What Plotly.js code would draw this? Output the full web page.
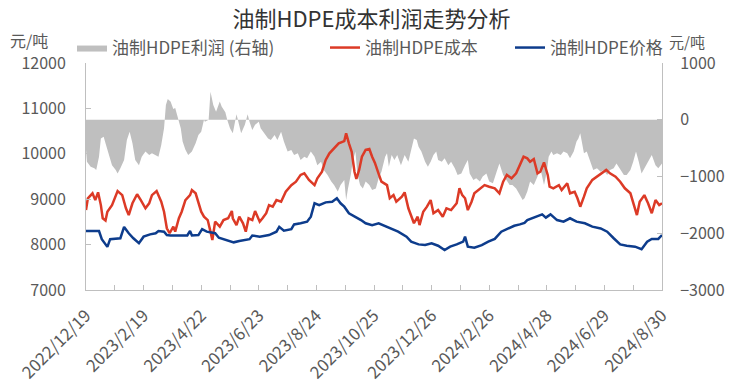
<!DOCTYPE html>
<html><head><meta charset="utf-8">
<script src="https://cdn.plot.ly/plotly-3.0.1.min.js"></script>
<style>html,body{margin:0;padding:0;background:#fff}#chart{width:743px;height:384px}</style>
</head><body><div id="chart"></div>
<script>
// x tick positions (every 62 days) and their labels
const tickDates = ['2022-12-19','2023-02-19','2023-04-22','2023-06-23','2023-08-24','2023-10-25','2023-12-26','2024-02-26','2024-04-28','2024-06-29','2024-08-30'];
const tickLabels = ['2022/12/19','2023/2/19','2023/4/22','2023/6/23','2023/8/24','2023/10/25','2023/12/26','2024/2/26','2024/4/28','2024/6/29','2024/8/30'];

// day offsets counted from 2022-12-19
const priceDay = [0,14,17,23,26,37,41,46,51,57,
 62,69,75,78,84,87,91,109,112,114,
 121,125,130,139,143,152,159,165,176,179,
 187,197,205,208,213,221,224,231,238,242,
 246,251,258,265,270,274,278,283,290,296,
 301,308,315,320,327,336,345,350,358,365,
 372,379,386,392,399,406,408,411,418,426,
 433,440,447,454,461,467,472,475,484,491,
 495,500,507,514,521,528,537,545,554,561,
 568,575,582,591,598,604,609,616,620];
const priceVal = [8300,8300,8120,7950,8120,8140,8390,8250,8140,8030,
 8175,8225,8250,8300,8285,8210,8200,8200,8300,8200,
 8210,8340,8285,8250,8150,8100,8050,8080,8120,8200,
 8175,8210,8285,8390,8305,8340,8445,8470,8505,8615,
 8910,8870,8930,8945,9020,8910,8835,8690,8615,8540,
 8470,8430,8470,8430,8370,8285,8175,8065,8005,7990,
 8030,7975,7880,7955,8005,8065,8175,7955,7930,7990,
 8065,8125,8285,8355,8415,8445,8480,8540,8615,8665,
 8595,8665,8540,8505,8580,8505,8470,8395,8355,8285,
 8140,8005,7975,7955,7900,8065,8125,8125,8210];

const costDay = [0,2,7,10,13,16,18,21,23,28,
 34,39,43,46,50,55,59,64,68,71,
 76,81,84,87,90,94,96,100,103,107,
 112,114,118,121,124,127,131,134,136,139,
 144,148,153,157,158,162,165,169,172,175,
 179,182,187,190,194,197,201,205,210,215,
 221,226,231,235,240,246,249,254,258,262,
 267,272,278,280,283,286,289,291,294,297,
 301,305,308,311,315,318,324,327,331,334,
 340,343,347,350,353,357,359,363,367,371,
 374,379,384,388,393,399,402,405,408,411,
 415,418,424,429,434,440,445,449,453,458,
 463,468,471,475,478,482,486,489,493,497,
 499,503,509,512,518,521,526,529,532,536,
 539,545,550,555,560,564,570,575,580,586,
 589,593,596,601,605,609,613,617,620];
const costVal = [8760,9020,9130,8980,9150,8870,8580,8530,8725,8870,
 9180,9090,8800,8650,8910,9110,8980,8800,8910,9090,
 9180,8945,8725,8360,8250,8395,8285,8580,8725,8980,
 9090,9200,9130,8945,8725,8615,8540,8285,8100,8505,
 8395,8540,8580,8740,8580,8430,8615,8470,8285,8580,
 8540,8740,8505,8580,8690,8870,8835,8980,8945,9165,
 9310,9385,9535,9570,9425,9310,9460,9605,9865,10010,
 10120,10230,10280,10450,10230,10045,9605,9445,9645,9935,
 10085,10105,9935,9800,9560,9386,9310,9020,9090,8945,
 9055,9150,8800,8650,8470,8615,8430,8725,8835,8980,
 8690,8760,8615,8800,8760,8910,9240,9090,9020,8760,
 8945,9130,9240,9310,9275,9240,9130,9385,9535,9460,
 9570,9800,9936,9900,9825,9885,9570,9605,9810,9535,
 9275,9240,9310,9200,9350,9130,9165,9020,8835,9055,
 9240,9425,9495,9570,9645,9570,9495,9385,9240,9130,
 8910,8650,8945,9090,8910,8690,8980,8870,8910];

const profitDay = [0,1,5,9,11,14,16,19,21,25,
 28,32,34,37,41,44,47,50,53,57,
 60,64,68,71,75,78,81,84,86,88,
 91,94,96,99,102,104,107,110,114,118,
 121,124,127,128,132,134,137,140,144,146,
 150,152,155,158,161,162,164,167,171,174,
 176,179,182,186,188,192,196,199,203,206,
 210,213,217,221,224,228,231,235,238,242,
 246,249,253,256,260,264,267,271,274,278,
 280,282,285,287,290,292,295,298,301,305,
 308,312,315,318,322,324,326,329,332,335,
 339,343,347,350,353,356,358,361,365,368,
 371,374,377,379,383,386,390,393,397,400,
 404,408,411,413,417,420,424,427,431,434,
 438,442,445,449,452,456,459,463,467,470,
 472,475,478,482,486,489,493,496,498,501,
 503,507,511,514,518,521,525,528,530,532,
 534,536,539,543,546,550,554,557,561,564,
 568,571,575,579,582,586,589,592,595,598,
 602,605,609,613,616,620];
const profitVal = [-530,-740,-830,-855,-885,-650,-330,-300,-415,-650,
 -800,-885,-945,-855,-710,-355,-210,-415,-710,-800,
 -650,-560,-620,-590,-620,-650,-445,-150,260,365,
 320,190,205,0,-150,-385,-530,-620,-560,-415,
 -270,-210,0,-35,0,495,260,140,320,235,
 130,0,-150,-240,0,95,-35,-240,-90,95,
 -35,-180,-90,-35,-150,-240,-330,-355,-270,-355,
 -210,-385,-560,-535,-620,-590,-710,-650,-680,-560,
 -650,-800,-740,-885,-975,-1090,-1150,-1265,-1150,-1060,
 -1415,-1210,-975,-740,-560,-945,-1150,-1210,-1090,-1150,
 -1240,-1210,-1030,-915,-650,-590,-830,-620,-710,-620,
 -800,-620,-740,-535,-330,-355,-475,-560,-740,-830,
 -740,-620,-560,-710,-740,-680,-800,-740,-855,-975,
 -945,-800,-710,-945,-1060,-1030,-1090,-1000,-945,-1090,
 -1120,-915,-770,-975,-1060,-1150,-1150,-1210,-1325,-1415,
 -1385,-1265,-1090,-1150,-1000,-855,-1150,-915,-650,-560,
 -620,-590,-620,-560,-590,-680,-560,-385,-330,-240,
 -415,-590,-560,-740,-885,-855,-915,-885,-975,-885,
 -855,-770,-885,-975,-975,-885,-740,-560,-740,-945,
 -830,-740,-620,-800,-855,-770];

const seriesNames = ['油制HDPE利润 (右轴)','油制HDPE成本','油制HDPE价格'];

function toDate(d){ return new Date(Date.UTC(2022,11,19) + d*86400000).toISOString().slice(0,10); }

const FONT = '"Noto Sans CJK SC", "Noto Sans", sans-serif';
const GRAY = '#595959';
const AX = '#BFBFBF';
const plotL = 86, plotW = 576, plotT = 63, plotH = 227;
const px = x => (x - plotL) / plotW;
const py = y => 1 + (plotT - y) / plotH;

// profit area on the right-hand axis (y), lines on the left-hand axis (y2, drawn on top)
const traces = [
  {x: profitDay.map(toDate), y: profitVal, type:'scatter', mode:'lines', fill:'tozeroy',
   fillcolor:'#BFBFBF', line:{width:0, color:'#BFBFBF'}, yaxis:'y', name:seriesNames[0], legend:'legend', hoverinfo:'skip'},
  {x: costDay.map(toDate), y: costVal, type:'scatter', mode:'lines', yaxis:'y2',
   line:{width:2.5, color:'#DC3A26'}, name:seriesNames[1], legend:'legend2'},
  {x: priceDay.map(toDate), y: priceVal, type:'scatter', mode:'lines', yaxis:'y2',
   line:{width:2.5, color:'#0D3C8C'}, name:seriesNames[2], legend:'legend3'}
];

const legBase = {orientation:'h', xanchor:'left', yanchor:'middle', y: py(48),
  font:{family:FONT, size:17, color:GRAY}, bgcolor:'rgba(0,0,0,0)', borderwidth:0};

const layout = {
  width:743, height:384,
  margin:{l:86, r:81, t:63, b:94, pad:0},
  paper_bgcolor:'#fff', plot_bgcolor:'#fff',
  font:{family:FONT, color:GRAY, size:16},
  title:{text:'油制HDPE成本利润走势分析', x:0.5, xref:'container', xanchor:'center',
    y:1-19/384, yref:'container', yanchor:'middle', font:{family:FONT, size:22, color:'#333'}},
  xaxis:{type:'date', range:['2022-12-19','2024-08-30'], tickmode:'array', tickvals:tickDates, ticktext:tickLabels,
    tickangle:-45, ticks:'inside', ticklen:5, tickcolor:AX, showline:true, linecolor:AX, linewidth:1,
    showgrid:false, zeroline:false, tickfont:{family:FONT, size:17, color:GRAY}, ticklabelstandoff:8,
    minor:{ticks:'inside', ticklen:5, tickcolor:AX, tick0:'2022-12-19', dtick:31*86400000, showgrid:false}},
  yaxis:{side:'right', range:[-3000,1000], tick0:-3000, dtick:1000, tickformat:'d', ticks:'inside', ticklen:5, tickcolor:AX,
    showline:true, linecolor:AX, showgrid:false, zeroline:false, tickfont:{family:FONT, size:16, color:GRAY}, ticklabelstandoff:14},
  yaxis2:{overlaying:'y', side:'left', range:[7000,12000], tick0:7000, dtick:1000, tickformat:'d', ticks:'inside', ticklen:5, tickcolor:AX,
    showline:true, linecolor:AX, showgrid:false, zeroline:false, tickfont:{family:FONT, size:16, color:GRAY}, ticklabelstandoff:16},
  legend:Object.assign({}, legBase, {x: px(72)}),
  legend2:Object.assign({}, legBase, {x: px(325)}),
  legend3:Object.assign({}, legBase, {x: px(510)}),
  annotations:[
    {text:'元/吨', xref:'paper', yref:'paper', x:px(8), y:py(40), xanchor:'left', yanchor:'middle', showarrow:false, font:{family:FONT, size:16, color:GRAY}},
    {text:'元/吨', xref:'paper', yref:'paper', x:px(667), y:py(42), xanchor:'left', yanchor:'middle', showarrow:false, font:{family:FONT, size:15, color:GRAY}}
  ],
  showlegend:true
};

Plotly.newPlot('chart', traces, layout, {displayModeBar:false, staticPlot:true});
</script>
</body></html>
